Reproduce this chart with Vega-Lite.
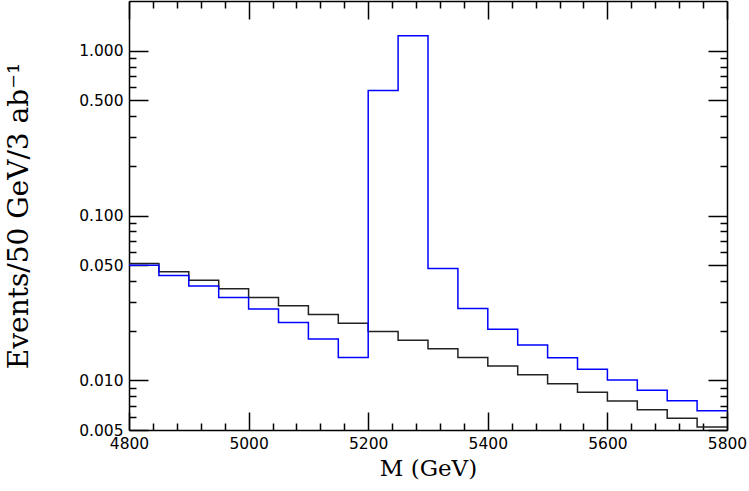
{
  "$schema": "https://vega.github.io/schema/vega-lite/v6.json",
  "autosize": "none",
  "width": 598,
  "height": 429,
  "padding": {"left": 129, "top": 1, "right": 22, "bottom": 61},
  "background": "white",
  "config": {
    "view": {"stroke": null},
    "axis": {
      "grid": false,
      "domainColor": "black",
      "domainWidth": 1.5,
      "tickColor": "black",
      "tickWidth": 1.5,
      "labelFont": "DejaVu Sans",
      "labelFontSize": 15.5,
      "labelColor": "black",
      "titleFont": "DejaVu Serif",
      "titleFontWeight": "normal",
      "titleColor": "black"
    }
  },
  "datasets": {
    "hist": [
      {"m": 4800, "value": 0.0512, "series": "background"},
      {"m": 4850, "value": 0.0456, "series": "background"},
      {"m": 4900, "value": 0.0405, "series": "background"},
      {"m": 4950, "value": 0.0360, "series": "background"},
      {"m": 5000, "value": 0.0318, "series": "background"},
      {"m": 5050, "value": 0.0284, "series": "background"},
      {"m": 5100, "value": 0.0251, "series": "background"},
      {"m": 5150, "value": 0.0222, "series": "background"},
      {"m": 5200, "value": 0.0198, "series": "background"},
      {"m": 5250, "value": 0.01754, "series": "background"},
      {"m": 5300, "value": 0.01556, "series": "background"},
      {"m": 5350, "value": 0.01378, "series": "background"},
      {"m": 5400, "value": 0.01222, "series": "background"},
      {"m": 5450, "value": 0.01082, "series": "background"},
      {"m": 5500, "value": 0.00955, "series": "background"},
      {"m": 5550, "value": 0.00846, "series": "background"},
      {"m": 5600, "value": 0.0075, "series": "background"},
      {"m": 5650, "value": 0.00664, "series": "background"},
      {"m": 5700, "value": 0.00589, "series": "background"},
      {"m": 5750, "value": 0.00521, "series": "background"},
      {"m": 5800, "value": 0.00521, "series": "background"},
      {"m": 4800, "value": 0.0500, "series": "signal"},
      {"m": 4850, "value": 0.0433, "series": "signal"},
      {"m": 4900, "value": 0.0373, "series": "signal"},
      {"m": 4950, "value": 0.0318, "series": "signal"},
      {"m": 5000, "value": 0.0271, "series": "signal"},
      {"m": 5050, "value": 0.0224, "series": "signal"},
      {"m": 5100, "value": 0.0178, "series": "signal"},
      {"m": 5150, "value": 0.01378, "series": "signal"},
      {"m": 5200, "value": 0.574, "series": "signal"},
      {"m": 5250, "value": 1.233, "series": "signal"},
      {"m": 5300, "value": 0.0477, "series": "signal"},
      {"m": 5350, "value": 0.0273, "series": "signal"},
      {"m": 5400, "value": 0.0204, "series": "signal"},
      {"m": 5450, "value": 0.01637, "series": "signal"},
      {"m": 5500, "value": 0.0137, "series": "signal"},
      {"m": 5550, "value": 0.0117, "series": "signal"},
      {"m": 5600, "value": 0.01004, "series": "signal"},
      {"m": 5650, "value": 0.0087, "series": "signal"},
      {"m": 5700, "value": 0.00753, "series": "signal"},
      {"m": 5750, "value": 0.00655, "series": "signal"},
      {"m": 5800, "value": 0.00655, "series": "signal"}
    ]
  },
  "data": {"name": "hist"},
  "resolve": {"axis": {"x": "independent", "y": "independent"}},
  "layer": [
    {
      "transform": [{"filter": "datum.series === 'background'"}],
      "mark": {"type": "line", "interpolate": "step-after", "color": "#222222", "strokeWidth": 1.5, "clip": true},
      "encoding": {
        "x": {
          "field": "m", "type": "quantitative",
          "scale": {"domain": [4800, 5800], "nice": false, "zero": false},
          "axis": {
            "orient": "bottom", "values": [4800, 5000, 5200, 5400, 5600, 5800],
            "format": "d", "tickSize": -18, "labelPadding": 24, "labelFlush": false,
            "title": "M  (GeV)", "titleFontSize": 23, "titlePadding": 6
          }
        },
        "y": {
          "field": "value", "type": "quantitative",
          "scale": {"type": "log", "domain": [0.005, 2], "nice": false},
          "axis": {
            "orient": "left", "values": [0.005, 0.01, 0.05, 0.1, 0.5, 1],
            "format": ".3f", "tickSize": -19, "labelPadding": 25, "labelFlush": false,
            "title": "Events/50  GeV/3  ab⁻¹", "titleFontSize": 28, "titlePadding": 45
          }
        }
      }
    },
    {
      "transform": [{"filter": "datum.series === 'signal'"}],
      "mark": {"type": "line", "interpolate": "step-after", "color": "#0000ff", "strokeWidth": 1.5, "clip": true},
      "encoding": {
        "x": {
          "field": "m", "type": "quantitative",
          "scale": {"domain": [4800, 5800], "nice": false, "zero": false},
          "axis": {
            "orient": "top", "values": [4800, 5000, 5200, 5400, 5600, 5800],
            "tickSize": -18, "labels": false, "title": null
          }
        },
        "y": {
          "field": "value", "type": "quantitative",
          "scale": {"type": "log", "domain": [0.005, 2], "nice": false},
          "axis": {
            "orient": "right", "values": [0.005, 0.01, 0.05, 0.1, 0.5, 1],
            "tickSize": -19, "labels": false, "title": null
          }
        }
      }
    },
    {
      "mark": {"type": "line", "strokeOpacity": 0},
      "encoding": {
        "x": {
          "field": "m", "type": "quantitative",
          "scale": {"domain": [4800, 5800], "nice": false, "zero": false},
          "axis": {
            "orient": "bottom",
            "values": [4840, 4880, 4920, 4960, 5040, 5080, 5120, 5160, 5240, 5280, 5320, 5360, 5440, 5480, 5520, 5560, 5640, 5680, 5720, 5760],
            "tickSize": -7, "labels": false, "domain": false, "title": null
          }
        },
        "y": {
          "field": "value", "type": "quantitative",
          "scale": {"type": "log", "domain": [0.005, 2], "nice": false},
          "axis": {
            "orient": "left",
            "values": [0.006, 0.007, 0.008, 0.009, 0.02, 0.03, 0.04, 0.06, 0.07, 0.08, 0.09, 0.2, 0.3, 0.4, 0.6, 0.7, 0.8, 0.9],
            "tickSize": -7, "labels": false, "domain": false, "title": null
          }
        }
      }
    },
    {
      "mark": {"type": "line", "strokeOpacity": 0},
      "encoding": {
        "x": {
          "field": "m", "type": "quantitative",
          "scale": {"domain": [4800, 5800], "nice": false, "zero": false},
          "axis": {
            "orient": "top",
            "values": [4840, 4880, 4920, 4960, 5040, 5080, 5120, 5160, 5240, 5280, 5320, 5360, 5440, 5480, 5520, 5560, 5640, 5680, 5720, 5760],
            "tickSize": -7, "labels": false, "domain": false, "title": null
          }
        },
        "y": {
          "field": "value", "type": "quantitative",
          "scale": {"type": "log", "domain": [0.005, 2], "nice": false},
          "axis": {
            "orient": "right",
            "values": [0.006, 0.007, 0.008, 0.009, 0.02, 0.03, 0.04, 0.06, 0.07, 0.08, 0.09, 0.2, 0.3, 0.4, 0.6, 0.7, 0.8, 0.9],
            "tickSize": -7, "labels": false, "domain": false, "title": null
          }
        }
      }
    }
  ]
}
